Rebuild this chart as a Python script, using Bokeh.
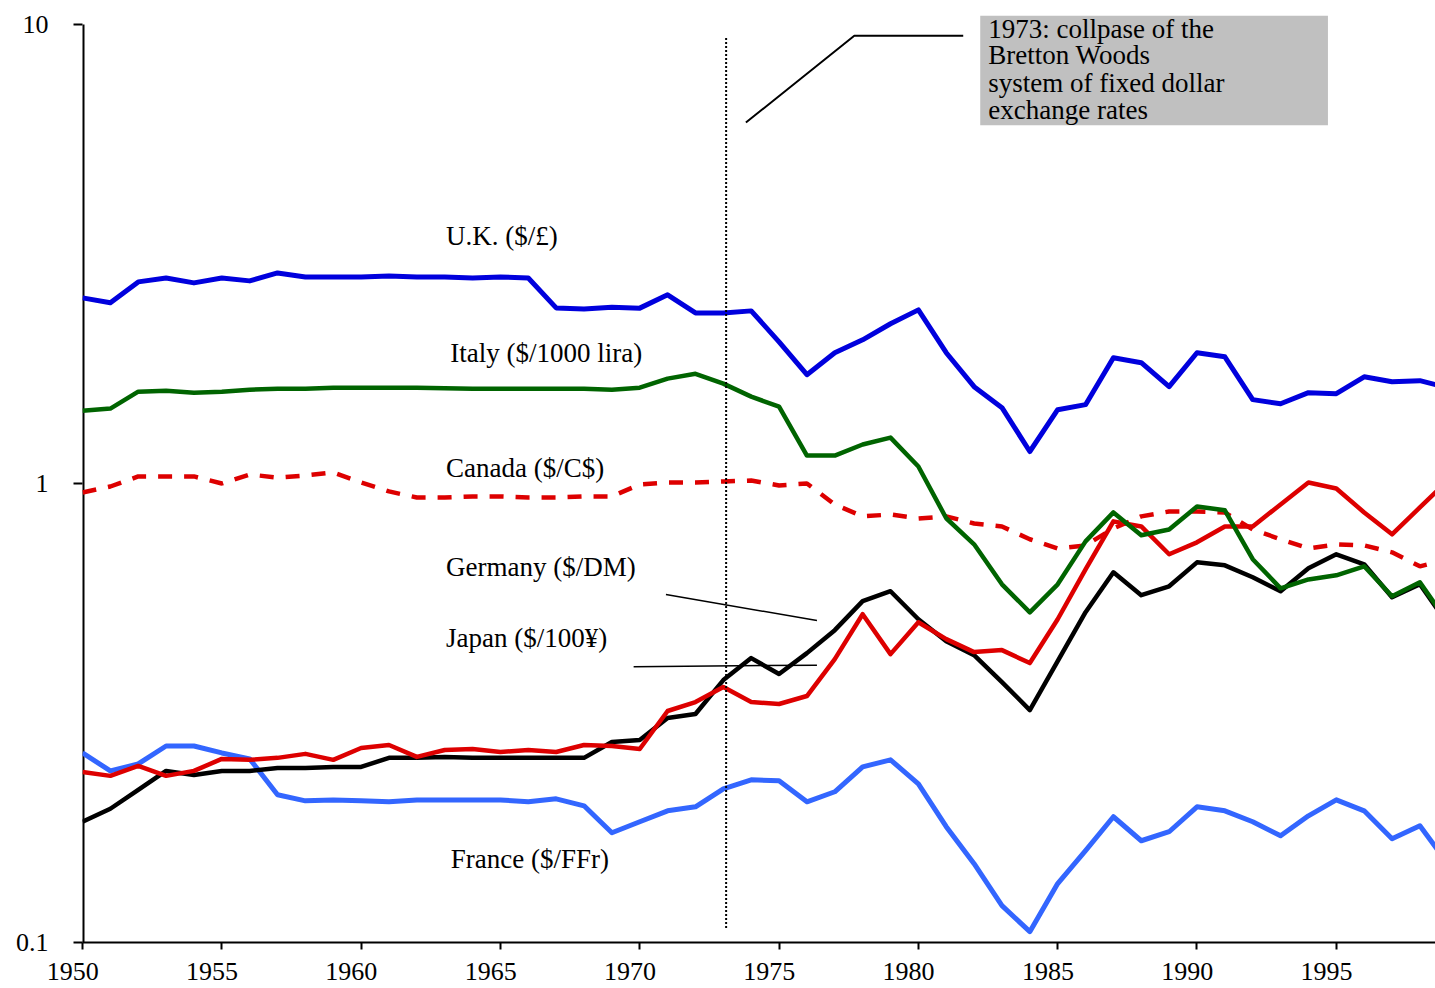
from bokeh.plotting import figure
from bokeh.models import Range1d, FixedTicker, BoxAnnotation, Label, CustomJSTickFormatter
from bokeh.core.properties import value
from bokeh.embed import file_html
from bokeh.resources import INLINE

# ---------------- data (US dollars per unit of foreign currency) ----------------
years = list(range(1950, 2000))

uk = [2.537, 2.475, 2.749, 2.804, 2.735, 2.804, 2.763, 2.875, 2.818, 2.818,
      2.818, 2.833, 2.818, 2.818, 2.804, 2.818, 2.804, 2.413, 2.400, 2.420,
      2.410, 2.576, 2.353, 2.353, 2.377, 2.035, 1.726, 1.927, 2.056, 2.228,
      2.389, 1.927, 1.625, 1.463, 1.174, 1.448, 1.485, 1.879, 1.833, 1.625,
      1.927, 1.888, 1.523, 1.492, 1.577, 1.569, 1.708, 1.666, 1.675, 1.617]

italy = [1.441, 1.456, 1.585, 1.593, 1.577, 1.585, 1.601, 1.609, 1.609, 1.617,
         1.617, 1.617, 1.617, 1.613, 1.609, 1.609, 1.609, 1.609, 1.609, 1.601,
         1.617, 1.692, 1.734, 1.650, 1.546, 1.470, 1.150, 1.150, 1.216, 1.259,
         1.089, 0.840, 0.737, 0.603, 0.524, 0.603, 0.748, 0.865, 0.771, 0.794,
         0.891, 0.874, 0.684, 0.591, 0.618, 0.631, 0.660, 0.568, 0.609, 0.499]

canada = [0.956, 0.985, 1.036, 1.036, 1.036, 1.000, 1.046, 1.030, 1.041, 1.057,
          1.005, 0.961, 0.932, 0.932, 0.937, 0.937, 0.932, 0.932, 0.937, 0.937,
          0.995, 1.005, 1.005, 1.010, 1.015, 0.990, 1.000, 0.900, 0.848, 0.856,
          0.839, 0.848, 0.818, 0.806, 0.756, 0.722, 0.733, 0.798, 0.848, 0.869,
          0.869, 0.865, 0.794, 0.756, 0.722, 0.737, 0.733, 0.708, 0.660, 0.684]

germany = [0.1833, 0.1956, 0.2151, 0.2365, 0.2318, 0.2365, 0.2365, 0.2401, 0.2401, 0.2413,
           0.2413, 0.2525, 0.2525, 0.2537, 0.2525, 0.2525, 0.2525, 0.2525, 0.2525, 0.2735,
           0.2763, 0.3084, 0.3147, 0.3730, 0.4165, 0.3844, 0.4270, 0.4791, 0.5541, 0.5825,
           0.5061, 0.4534, 0.4227, 0.3693, 0.3209, 0.4102, 0.5243, 0.6406, 0.5709, 0.5971,
           0.6733, 0.6633, 0.6247, 0.5825, 0.6534, 0.7011, 0.6667, 0.5650, 0.6033, 0.4938]

japan = [0.2353, 0.2307, 0.2425, 0.2307, 0.2365, 0.2512, 0.2500, 0.2525, 0.2576, 0.2500,
         0.2653, 0.2693, 0.2537, 0.2627, 0.2640, 0.2601, 0.2627, 0.2601, 0.2693, 0.2680,
         0.2640, 0.3194, 0.3341, 0.3601, 0.3341, 0.3308, 0.3443, 0.4144, 0.5190, 0.4249,
         0.4986, 0.4580, 0.4292, 0.4335, 0.4062, 0.5061, 0.6501, 0.8269, 0.8062, 0.7011,
         0.7444, 0.8062, 0.8062, 0.9001, 1.005, 0.9752, 0.8648, 0.7748, 0.8868, 1.015]

france = [0.2588, 0.2365, 0.2449, 0.2680, 0.2680, 0.2588, 0.2512, 0.2098, 0.2035, 0.2045,
          0.2035, 0.2025, 0.2045, 0.2045, 0.2045, 0.2045, 0.2025, 0.2056, 0.1985, 0.1734,
          0.1833, 0.1936, 0.1975, 0.2162, 0.2261, 0.2250, 0.2025, 0.2130, 0.2413, 0.2500,
          0.2217, 0.1788, 0.1485, 0.1203, 0.1056, 0.1344, 0.1585, 0.1879, 0.1666, 0.1743,
          0.1975, 0.1936, 0.1833, 0.1708, 0.1888, 0.2045, 0.1936, 0.1683, 0.1796, 0.1485]

series_labels = ["U.K. ($/£)", "Italy ($/1000 lira)", "Canada ($/C$)",
                 "Germany ($/DM)", "Japan ($/100¥)", "France ($/FFr)"]
x_ticks = list(range(1950, 2000, 5))
y_ticks = [0.1, 1, 10]
note_lines = ["1973: collpase of the", "Bretton Woods",
              "system of fixed dollar", "exchange rates"]

# ---------------- layout / positions ----------------
label_x = [1963.05, 1963.20, 1963.05, 1963.05, 1963.05, 1963.22]
label_y = [3.464, 1.924, 1.082, 0.659, 0.4608, 0.1524]
note_y = [9.777, 8.587, 7.462, 6.519]

FONT = "Liberation Serif"

# the frame reaches slightly above 10 so the note box is not clipped
p = figure(width=1435, height=988,
           x_range=Range1d(1950, 1998.56), y_range=Range1d(0.1, 10.46),
           y_axis_type="log", output_backend="svg", toolbar_location=None,
           min_border_left=82, min_border_top=15, min_border_right=0,
           min_border_bottom=44)
p.background_fill_color = "white"
p.border_fill_color = "white"
p.outline_line_color = None
p.xgrid.visible = False
p.ygrid.visible = False

# axes
for ax in (p.xaxis[0], p.yaxis[0]):
    ax.axis_line_color = "black"
    ax.axis_line_width = 2
    ax.major_tick_line_color = "black"
    ax.major_tick_line_width = 2
    ax.major_tick_in = 0
    ax.minor_tick_line_color = None
    ax.major_label_text_font = FONT
    ax.major_label_text_font_size = "26px"
    ax.major_label_text_color = "black"

p.xaxis.ticker = FixedTicker(ticks=x_ticks, minor_ticks=[])
p.xaxis.major_tick_out = 7
p.xaxis.major_label_standoff = 7
# labels sit a little left of their ticks, as in the original
p.xaxis.formatter = CustomJSTickFormatter(
    code="return String(tick) + '\\u00a0\\u00a0\\u00a0'")

p.yaxis.ticker = FixedTicker(ticks=y_ticks, minor_ticks=[])
p.yaxis.major_tick_out = 9
p.yaxis.major_label_standoff = 25
p.yaxis.formatter = CustomJSTickFormatter(code="return String(tick)")
p.yaxis.axis_line_color = None
# visible part of the y axis line: from 0.1 up to 10 only
p.line([1950, 1950], [0.1, 10], line_color="black", line_width=4)

# series lines
p.line(years, france, line_color="#3366FF", line_width=5, line_join="round")
p.line(years, uk, line_color="#0000DD", line_width=5, line_join="round")
p.line(years, canada, line_color="#DD0000", line_width=4.5, line_dash="14 12")
p.line(years, germany, line_color="black", line_width=4.5, line_join="round")
p.line(years, japan, line_color="#DD0000", line_width=4.5, line_join="round")
p.line(years, italy, line_color="#006400", line_width=4.5, line_join="round")

# vertical dotted marker for 1973 and leader lines
p.line([1973.10, 1973.10], [0.1076, 9.404], line_color="black", line_width=2,
       line_dash="2 2")
p.line([1973.81, 1977.70, 1981.61], [6.113, 9.450, 9.450], line_color="black",
       line_width=2)
p.line([1970.94, 1976.36], [0.5728, 0.5029], line_color="black", line_width=1.5)
p.line([1969.78, 1976.36], [0.399, 0.402], line_color="black", line_width=1.5)

# series labels
p.text(x=label_x, y=label_y, text=series_labels, text_font=value(FONT),
       text_font_size="27px", text_color="black", text_align="left",
       text_baseline="middle")

# note box
p.add_layout(BoxAnnotation(left=1982.22, right=1994.70, bottom=6.031, top=10.46,
                           fill_color="#C0C0C0", fill_alpha=1.0, line_color=None))
for line_text, ny in zip(note_lines, note_y):
    p.add_layout(Label(x=1982.51, y=ny, text=line_text, text_font=FONT,
                       text_font_size="27px", text_color="black",
                       text_align="left", text_baseline="middle"))

open("out.html", "w").write(file_html(p, INLINE))
